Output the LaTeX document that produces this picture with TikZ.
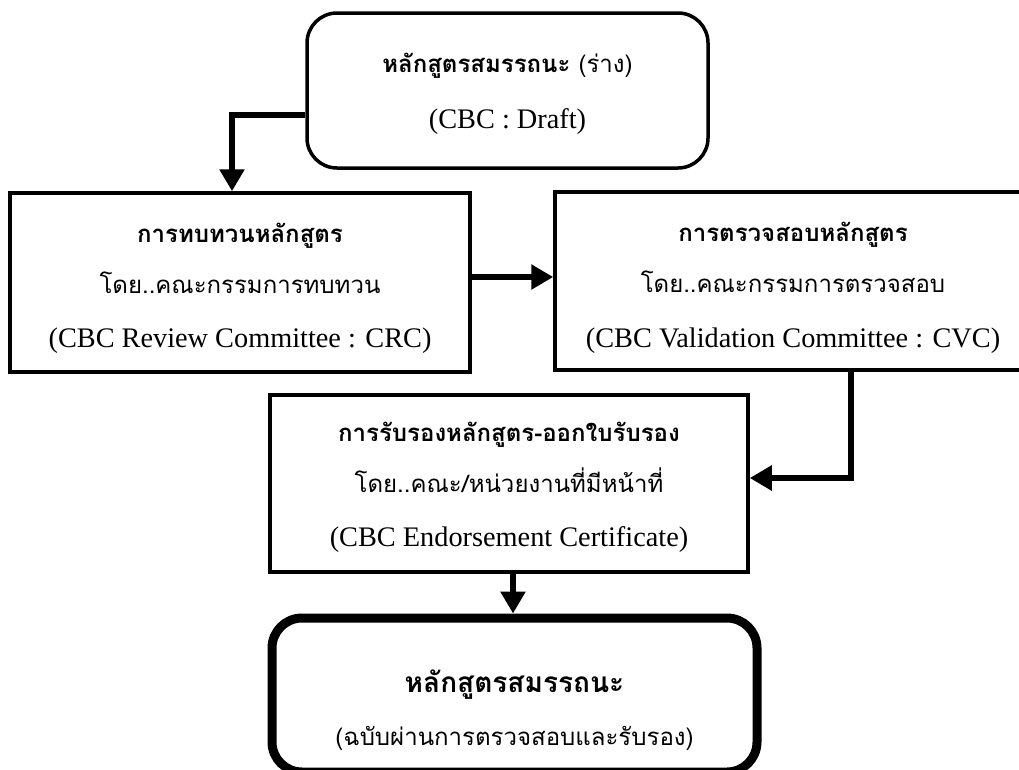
\documentclass[tikz,border=0pt]{standalone}
\usepackage{fontspec}
\setmainfont{Liberation Serif}
\newfontfamily\thai[Script=Thai]{Loma}
\usetikzlibrary{arrows.meta}
\begin{document}
\begin{tikzpicture}[x=1pt,y=-1pt,
  box/.style={draw, line width=3.5pt, inner sep=0pt, rectangle},
  rbox/.style={box, rounded corners=30pt},
  fbox/.style={box, line width=9pt, rounded corners=30pt},
  lat/.style={anchor=base, inner sep=0pt, font=\fontsize{28.3}{30}\selectfont},
  thr/.style={anchor=base, inner sep=0pt, font=\thai\fontsize{24}{28}\selectfont},
  thb/.style={anchor=base, inner sep=0pt, font=\thai\bfseries\fontsize{24}{28}\selectfont},
  thbig/.style={anchor=base, inner sep=0pt, font=\thai\bfseries\fontsize{28}{32}\selectfont},
  conn/.style={line width=6pt, -{Triangle[width=24pt,length=22pt]}}
]
\useasboundingbox (0,0) rectangle (1019,769);
\clip (0,0) rectangle (1019,769);

% boxes
\node[rbox, minimum width=401pt, minimum height=155pt] (b1) at (507.5,90.5) {};
\node[box, minimum width=460pt, minimum height=179pt] (b2) at (240,282.5) {};
\node[box, minimum width=476pt, minimum height=178pt] (b3) at (793,281) {};
\node[box, minimum width=478pt, minimum height=177pt] (b4) at (509,483.5) {};
\node[fbox, minimum width=485pt, minimum height=154pt] (b5) at (514.5,695) {};

% texts
\node[thr] (t1a) at (507.5,72) {{\bfseries หลักสูตรสมรรถนะ} (ร่าง)};
\node[lat] (t1b) at (507.5,128) {(CBC : Draft)};

\node[thb] (t2a) at (240,242) {การทบทวนหลักสูตร};
\node[thr] (t2b) at (240,293) {โดย..คณะกรรมการทบทวน};
\node[lat] (t2c) at (240,347) {(CBC Review Committee : CRC)};

\node[thb] (t3a) at (793,241) {การตรวจสอบหลักสูตร};
\node[thr] (t3b) at (793,292) {โดย..คณะกรรมการตรวจสอบ};
\node[lat] (t3c) at (793,347) {(CBC Validation Committee : CVC)};

\node[thb] (t4a) at (509,441) {การรับรองหลักสูตร-ออกใบรับรอง};
\node[thr] (t4b) at (509,492) {โดย..คณะ/หน่วยงานที่มีหน้าที่};
\node[lat] (t4c) at (509,546) {(CBC Endorsement Certificate)};

\node[thbig] (t5a) at (514.5,692) {หลักสูตรสมรรถนะ};
\node[thr] (t5b) at (514.5,745) {(ฉบับผ่านการตรวจสอบและรับรอง)};

% connectors
\draw[conn] ([yshift=-24pt]b1.west) -| ([xshift=-8pt]b2.north);
\draw[conn] ([yshift=5.5pt]b2.east) -- ([yshift=5.5pt]b2.east -| b3.west);
\draw[conn] ([xshift=58pt]b3.south) |- ([yshift=5.5pt]b4.east);
\draw[conn] ([xshift=4pt]b4.south) -- ([xshift=4pt]b4.south |- b5.north);
\end{tikzpicture}
\end{document}
